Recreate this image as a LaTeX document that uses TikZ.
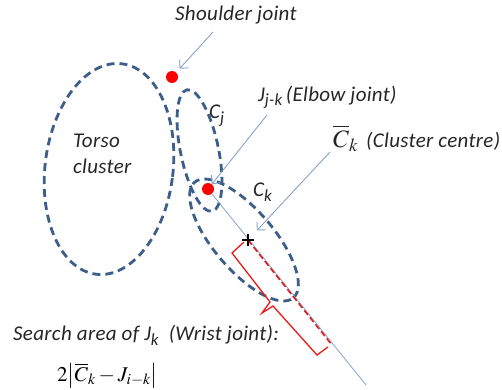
\documentclass[tikz,border=0pt]{standalone}
\usepackage{mathptmx}
\usepackage{fontspec}
\newfontfamily\labfont[LetterSpace=1.5]{Carlito}
\usetikzlibrary{arrows.meta}
\definecolor{clus}{RGB}{59,94,138}
\definecolor{arr}{RGB}{135,162,205}
\definecolor{jred}{RGB}{232,25,25}
\begin{document}
\begin{tikzpicture}[x=1pt,y=1pt,
  cluster/.style={draw=clus, line width=2.8pt, dash pattern=on 8pt off 5pt},
  lab/.style={font=\labfont\itshape\fontsize{21}{25}\selectfont, inner sep=0pt, anchor=base west, text=black!85},
  pointer/.style={draw=arr, line width=0.9pt, -{Straight Barb[length=6pt,width=12pt]}},
  joint/.style={circle, fill=red, inner sep=0pt, minimum size=12pt},
  axisline/.style={draw=arr, line width=0.8pt},
  bracket/.style={draw=jred, line width=1.3pt, line join=miter},
  reddash/.style={draw=jred, line width=1.6pt, dash pattern=on 6pt off 3pt},
]
\useasboundingbox (0,0) rectangle (502,389);
\newcommand{\lsub}[1]{\raisebox{-5pt}{\fontsize{17}{17}\selectfont #1}}
% clusters
\draw[cluster, rotate around={-7:(109,220)}] (109,220) ellipse [x radius=64pt, y radius=106pt];
\draw[cluster, rotate around={11.7:(199.5,238.5)}] (199.5,238.5) ellipse [x radius=19pt, y radius=62pt];
\draw[cluster, rotate around={-49.5:(244,149)}] (244,149) ellipse [x radius=76pt, y radius=30pt];
% joints
\node[joint] (shoulder) at (172,312) {};
\node[joint] (elbow) at (208,200) {};
\coordinate (centre) at (248,149);
\coordinate (wristend) at (366,4);
\coordinate (redend) at (332,44);
% axis and search area
\draw[axisline] (elbow) -- (wristend);
\draw[reddash] (centre) -- (redend);
\draw[bracket] (244,147) -- (232,136) -- (270,87) -- (262,76) -- (273,83) -- (317,34) -- (328,42);
\draw[black, line width=1.3pt] (242,149) -- (254,149) (248,143) -- (248,155);
% labels
\node[lab] (shoulderlab) at (175,368.5) {Shoulder joint};
\node[lab] (torsolab) at (73,242) {Torso};
\node[lab] (torsolab2) at (73,216) {cluster};
\node[lab] (cjlab) at (209,271) {C\lsub{j}};
\node[lab] (cklab) at (253,193) {C\lsub{k}};
\node[lab] (elbowlab) at (258,288) {J\lsub{j-k}\,(Elbow joint)};
\node[lab] (centrelab) at (333,242) {\fontsize{25}{25}\selectfont$\overline{C}_{k}$\hspace{8pt}\fontsize{21}{25}\selectfont(Cluster centre)};
\node[lab] (searchlab) at (13,49) {Search area of J\lsub{k}\ \ (Wrist joint):};
\node[anchor=base west, inner sep=0pt, font=\fontsize{21}{24}\selectfont] (formula) at (57,8) {$2\bigl|\overline{C}_k - J_{i-k}\bigr|$};
% pointers
\coordinate (a1s) at (213,357);
\coordinate (a2s) at (267,274);
\coordinate (a3s) at (330,237);
\draw[pointer, shorten >=5pt] (a1s) -- (shoulder);
\draw[pointer] (a2s) -- (elbow);
\draw[pointer, shorten >=13pt] (a3s) -- (centre);
\end{tikzpicture}
\end{document}
